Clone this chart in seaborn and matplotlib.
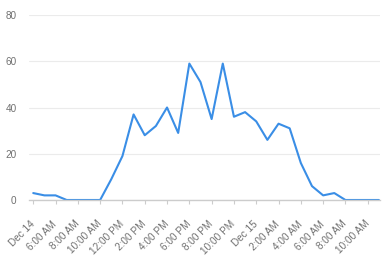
import matplotlib
matplotlib.use("Agg")
import matplotlib.pyplot as plt
import seaborn as sns
import pandas as pd
import numpy as np

values = [3, 2, 2, 0, 0, 0, 0, 9, 19, 37, 28, 32, 40, 29, 59, 51,
          35, 59, 36, 38, 34, 26, 33, 31, 16, 6, 2, 3, 0, 0, 0, 0]
tick_labels = ["Dec 14", "6:00 AM", "8:00 AM", "10:00 AM", "12:00 PM", "2:00 PM",
               "4:00 PM", "6:00 PM", "8:00 PM", "10:00 PM", "Dec 15", "2:00 AM",
               "4:00 AM", "6:00 AM", "8:00 AM", "10:00 AM"]
y_ticks = [0, 20, 40, 60, 80]

df = pd.DataFrame({"hour": np.arange(len(values)), "value": values})

sns.set_theme(style="white")
plt.rcParams["font.family"] = ["Liberation Sans", "DejaVu Sans"]

fig = plt.figure(figsize=(3.88, 2.64), dpi=100)
ax = fig.add_axes([29 / 388, 1 - 200 / 264, (380 - 29) / 388, (200 - 15) / 264])

sns.lineplot(data=df, x="hour", y="value", ax=ax, color="#3a8ee6", linewidth=1.5)

ax.set_xlim(-0.38, 31.1)
ax.set_ylim(0, 80)
ax.set_yticks(y_ticks)
ax.set_xticks(np.arange(0, len(values), 2))
ax.set_xticklabels(tick_labels, rotation=45, ha="right", va="center",
                   rotation_mode="anchor")
ax.set_xlabel("")
ax.set_ylabel("")

for s in ["top", "right", "left"]:
    ax.spines[s].set_visible(False)
ax.spines["bottom"].set_color("#cccccc")
ax.spines["bottom"].set_linewidth(1)

ax.grid(axis="y", color="#ebebeb", linewidth=0.8)
ax.set_axisbelow(True)
ax.tick_params(axis="y", length=0, pad=9, labelsize=7.2, labelcolor="#707070")
ax.tick_params(axis="x", length=3, width=0.8, color="#cccccc", direction="out",
               bottom=True, pad=13, labelsize=7.2, labelcolor="#707070")

fig.savefig("out.png", dpi=100)
